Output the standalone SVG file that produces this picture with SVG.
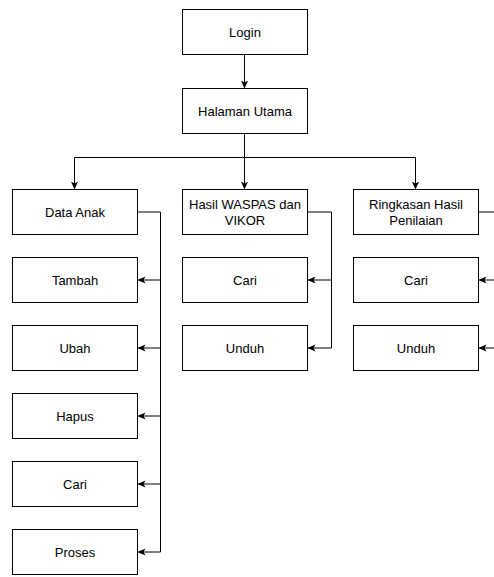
<svg xmlns="http://www.w3.org/2000/svg" width="494" height="577" viewBox="0 0 494 577">
<defs>
<marker id="arr" viewBox="0 0 10 10" refX="10" refY="5" markerWidth="8" markerHeight="8" markerUnits="userSpaceOnUse" orient="auto">
<path d="M10,5 L0,0.5 L2.5,5 L0,9.5 Z" fill="#000"/>
</marker>
<style>
.box{fill:#fff;stroke:#000;stroke-width:1}
.t{font-family:"Liberation Sans",Arial,Helvetica,sans-serif;font-size:13px;fill:#000;text-anchor:middle}
.c{fill:none;stroke:#000;stroke-width:1}
</style>
</defs>
<rect width="494" height="577" fill="#fff"/>
<g id="connectors">
<path class="c" d="M244.5,54.5 V88.5" marker-end="url(#arr)"/>
<path class="c" d="M244.5,133.5 V157.5 H74.5 V189.5" marker-end="url(#arr)"/>
<path class="c" d="M244.5,157.5 V189.5" marker-end="url(#arr)"/>
<path class="c" d="M244.5,157.5 H415.5 V189.5" marker-end="url(#arr)"/>
<path class="c" d="M137.5,212 H160.5 V280 H137.5" marker-end="url(#arr)"/>
<path class="c" d="M160.5,280 V348 H137.5" marker-end="url(#arr)"/>
<path class="c" d="M160.5,348 V416 H137.5" marker-end="url(#arr)"/>
<path class="c" d="M160.5,416 V484 H137.5" marker-end="url(#arr)"/>
<path class="c" d="M160.5,484 V552 H137.5" marker-end="url(#arr)"/>
<path class="c" d="M307.5,212 H331.5 V280 H307.5" marker-end="url(#arr)"/>
<path class="c" d="M331.5,280 V348 H307.5" marker-end="url(#arr)"/>
<path class="c" d="M478.5,212 H502"/>
<path class="c" d="M502,280 H478.5" marker-end="url(#arr)"/>
<path class="c" d="M502,348 H478.5" marker-end="url(#arr)"/>
</g>
<g id="login"><rect class="box" x="182.5" y="9.5" width="125" height="45"/><text class="t" x="245" y="36.5">Login</text></g>
<g id="halaman-utama"><rect class="box" x="182.5" y="88.5" width="125" height="45"/><text class="t" x="245" y="115.5">Halaman Utama</text></g>
<g id="data-anak"><rect class="box" x="12.5" y="189.5" width="125" height="45"/><text class="t" x="75" y="216.5">Data Anak</text></g>
<g id="hasil-waspas"><rect class="box" x="182.5" y="189.5" width="125" height="45"/><text class="t" x="245" y="208.5">Hasil WASPAS dan</text><text class="t" x="245" y="225">VIKOR</text></g>
<g id="ringkasan"><rect class="box" x="353.5" y="189.5" width="125" height="45"/><text class="t" x="416" y="208.5">Ringkasan Hasil</text><text class="t" x="416" y="225">Penilaian</text></g>
<g id="tambah"><rect class="box" x="12.5" y="257.5" width="125" height="45"/><text class="t" x="75" y="284.5">Tambah</text></g>
<g id="ubah"><rect class="box" x="12.5" y="325.5" width="125" height="45"/><text class="t" x="75" y="352.5">Ubah</text></g>
<g id="hapus"><rect class="box" x="12.5" y="393.5" width="125" height="45"/><text class="t" x="75" y="420.5">Hapus</text></g>
<g id="cari-anak"><rect class="box" x="12.5" y="461.5" width="125" height="45"/><text class="t" x="75" y="488.5">Cari</text></g>
<g id="proses"><rect class="box" x="12.5" y="529.5" width="125" height="45"/><text class="t" x="75" y="556.5">Proses</text></g>
<g id="cari-waspas"><rect class="box" x="182.5" y="257.5" width="125" height="45"/><text class="t" x="245" y="284.5">Cari</text></g>
<g id="unduh-waspas"><rect class="box" x="182.5" y="325.5" width="125" height="45"/><text class="t" x="245" y="352.5">Unduh</text></g>
<g id="cari-ringkasan"><rect class="box" x="353.5" y="257.5" width="125" height="45"/><text class="t" x="416" y="284.5">Cari</text></g>
<g id="unduh-ringkasan"><rect class="box" x="353.5" y="325.5" width="125" height="45"/><text class="t" x="416" y="352.5">Unduh</text></g>
</svg>
